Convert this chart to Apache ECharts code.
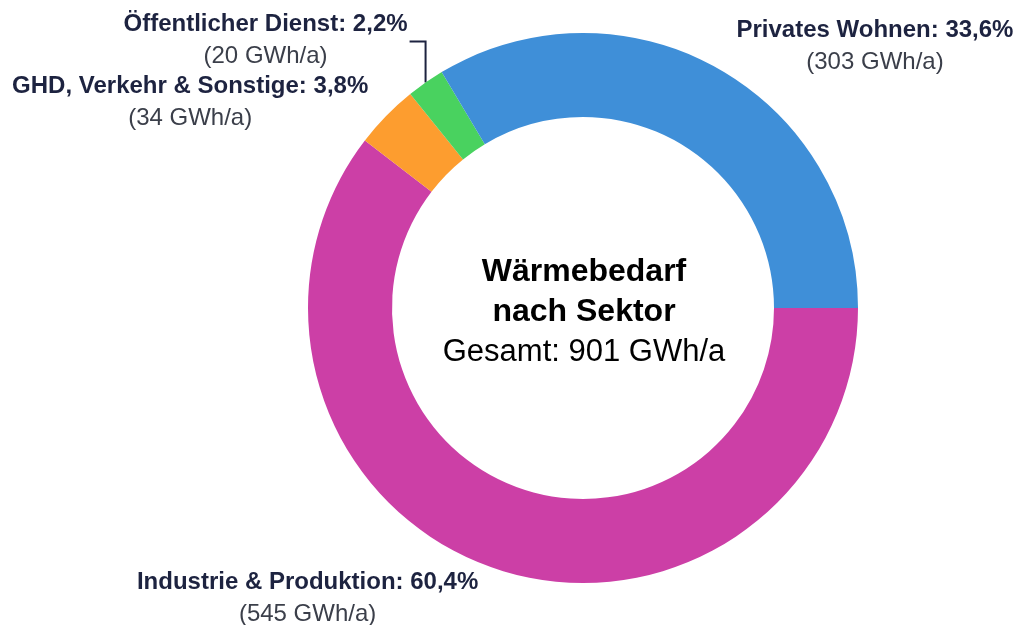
<!DOCTYPE html>
<html><head><meta charset="utf-8">
<script src="https://cdn.jsdelivr.net/npm/echarts@6/dist/echarts.min.js"></script>
<style>html,body{margin:0;padding:0;background:#fff}#c{width:1019px;height:625px}</style>
</head><body><div id="c"></div>
<script>
const categories = ['Industrie & Produktion', 'GHD, Verkehr & Sonstige', 'Öffentlicher Dienst', 'Privates Wohnen'];
const values = [545, 34, 20, 303];
const percentLabels = ['60,4%', '3,8%', '2,2%', '33,6%'];
const unit = 'GWh/a';
const centerTitle = ['Wärmebedarf', 'nach Sektor'];
const centerSub = 'Gesamt: 901 GWh/a';

const colors = ['#cc3fa6', '#fd9d2f', '#49d25f', '#3f8fd8'];
const CENTER = [583, 308];
const FONT = '"Liberation Sans", Arial, sans-serif';
// label line geometry per slice [length, length2, show, distance]
const lineCfg = [[32, 6, false, 0], [19.5, 0, false, 4], [10, 10, true, 0], [26.2, 5, false, 0]];

const chart = echarts.init(document.getElementById('c'), null, {renderer: 'canvas'});
const data = categories.map((name, i) => ({
  name, value: values[i],
  itemStyle: {color: colors[i]},
  label: {distanceToLabelLine: lineCfg[i][3]},
  labelLine: {show: lineCfg[i][2], length: lineCfg[i][0], length2: lineCfg[i][1],
    lineStyle: {color: '#1d2340', width: 2}}
}));

chart.setOption({
  animation: false,
  backgroundColor: '#ffffff',
  graphic: [{
    type: 'text', x: CENTER[0] + 1, y: CENTER[1] + 4, silent: true,
    style: {
      text: '{t|' + centerTitle[0] + '}\n{t|' + centerTitle[1] + '}\n{s|' + centerSub + '}',
      align: 'center', verticalAlign: 'middle',
      rich: {
        t: {fontFamily: FONT, fontWeight: 'bold', fontSize: 32, lineHeight: 40, color: '#1e2450', align: 'center'},
        s: {fontFamily: FONT, fontSize: 31, lineHeight: 40, color: '#2a2f42', align: 'center'}
      }
    }
  }],
  series: [{
    type: 'pie',
    center: CENTER,
    radius: [191, 275],
    startAngle: 0,
    clockwise: true,
    avoidLabelOverlap: false,
    emphasis: {disabled: true},
    itemStyle: {borderWidth: 0},
    label: {
      show: true, position: 'outside', distanceToLabelLine: 0,
      formatter: p => '{b|' + p.name + ': ' + percentLabels[p.dataIndex] + '}\n{v|(' + p.value + ' ' + unit + ')}',
      rich: {
        b: {fontFamily: FONT, fontWeight: 'bold', fontSize: 24, lineHeight: 32, color: '#1d2340', align: 'center'},
        v: {fontFamily: FONT, fontSize: 24, lineHeight: 32, color: '#3b3f4a', align: 'center'}
      }
    },
    labelLayout: function (params) {
      if (params.dataIndex !== 2 || !params.labelLinePoints) return {};
      const p = params.labelLinePoints[0];
      const yTop = p[1] - 41;
      const xEnd = p[0] - 16;
      return {
        x: xEnd - 2, y: yTop - 1, align: 'right', verticalAlign: 'middle',
        labelLinePoints: [[p[0], p[1]], [p[0], yTop], [xEnd, yTop]]
      };
    },
    data
  }]
});
</script></body></html>
